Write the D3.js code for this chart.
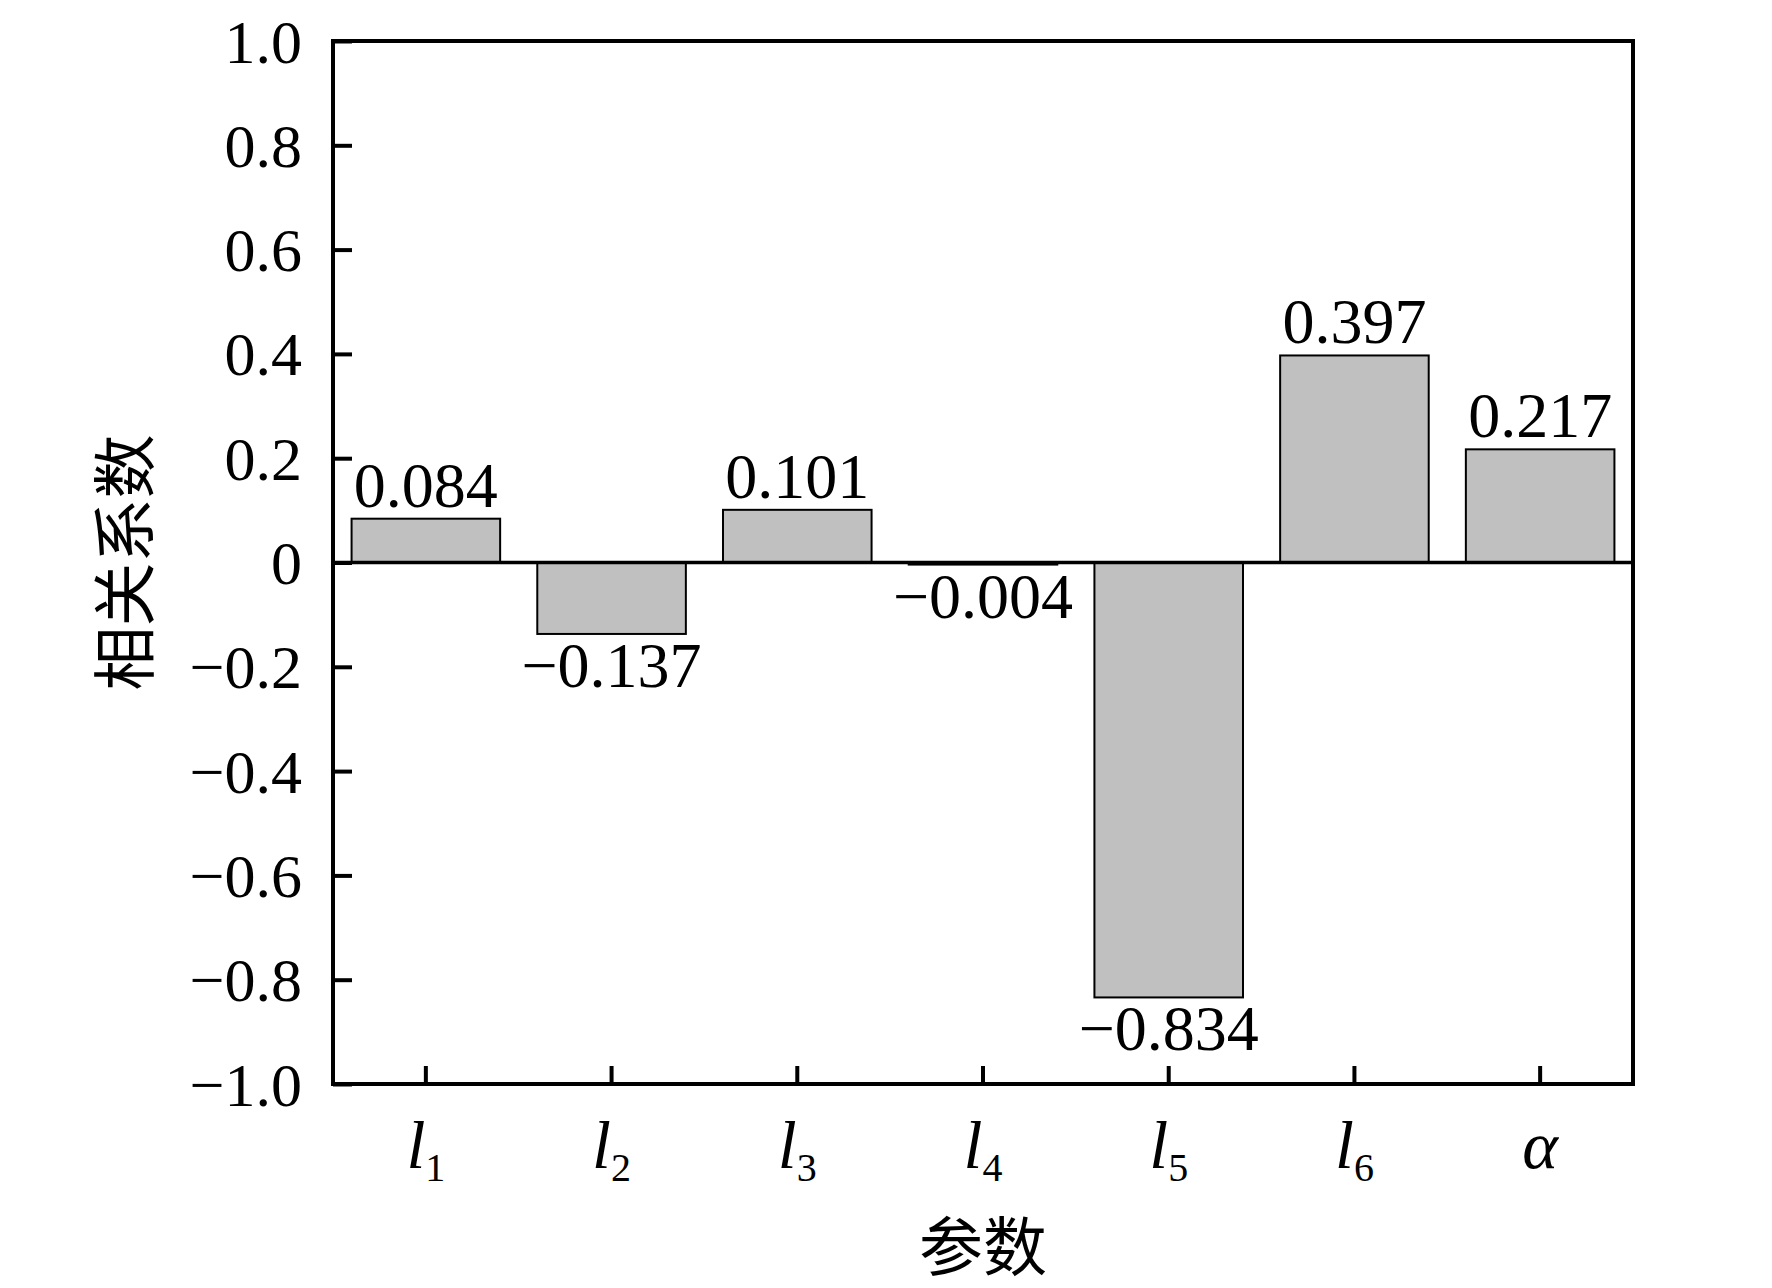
<!DOCTYPE html>
<html>
<head>
<meta charset="utf-8">
<script src="https://cdn.jsdelivr.net/npm/d3@7"></script>
<style>
  body { margin: 0; background: #fff; }
  svg { display: block; }
</style>
</head>
<body>
<svg id="corrChart"></svg>
<script>
// Correlation coefficients per parameter
const params = ['l1', 'l2', 'l3', 'l4', 'l5', 'l6', 'alpha'];
const paramSymbols = ['l', 'l', 'l', 'l', 'l', 'l', 'α'];
const paramSubs = ['1', '2', '3', '4', '5', '6', ''];
const coefficients = [0.084, -0.137, 0.101, -0.004, -0.834, 0.397, 0.217];
const yTicks = [1.0, 0.8, 0.6, 0.4, 0.2, 0, -0.2, -0.4, -0.6, -0.8, -1.0];

function renderCorrChart() {
  const W = 1772;
  const H = 1288;
  const margin = { top: 41, right: 139, bottom: 204, left: 333 };
  const width = W - margin.left - margin.right;
  const height = H - margin.top - margin.bottom;
  const serif = '"Liberation Serif", "Times New Roman", serif';
  const cjk = '"Noto Sans CJK SC", sans-serif';

  const svg = d3.select('#corrChart')
    .attr('width', W)
    .attr('height', H)
    .attr('viewBox', `0 0 ${W} ${H}`);

  svg.append('rect')
    .attr('width', W)
    .attr('height', H)
    .attr('fill', '#fff');

  const g = svg.append('g')
    .attr('transform', `translate(${margin.left},${margin.top})`);

  const xScale = d3.scaleBand()
    .domain(params)
    .range([0, width])
    .paddingInner(0.2)
    .paddingOuter(0.1);

  const yScale = d3.scaleLinear()
    .domain([-1, 1])
    .range([height, 0]);

  // bars
  g.selectAll('.bar')
    .data(params)
    .enter()
    .append('rect')
    .attr('class', 'bar')
    .attr('x', d => xScale(d))
    .attr('y', (d, i) => yScale(Math.max(0, coefficients[i])))
    .attr('width', xScale.bandwidth())
    .attr('height', (d, i) => Math.abs(yScale(coefficients[i]) - yScale(0)))
    .attr('fill', '#c0c0c0')
    .attr('stroke', '#000')
    .attr('stroke-width', 2);

  // zero line
  g.append('line')
    .attr('x1', 0)
    .attr('x2', width)
    .attr('y1', yScale(0))
    .attr('y2', yScale(0))
    .attr('stroke', '#000')
    .attr('stroke-width', 3.5);

  // value labels
  const fmt = d3.format('.3f');
  g.selectAll('.val')
    .data(params)
    .enter()
    .append('text')
    .attr('class', 'val')
    .attr('x', d => xScale(d) + xScale.bandwidth() / 2)
    .attr('y', (d, i) => coefficients[i] >= 0
      ? yScale(coefficients[i]) - 12
      : yScale(coefficients[i]) + 53)
    .attr('text-anchor', 'middle')
    .style('font-family', serif)
    .style('font-size', '64px')
    .style('fill', '#000')
    .text((d, i) => fmt(coefficients[i]));

  // y axis
  const yAxis = g.append('g')
    .call(d3.axisLeft(yScale)
      .tickValues(yTicks)
      .tickSizeInner(-19)
      .tickSizeOuter(0)
      .tickPadding(31)
      .tickFormat(d => d === 0 ? '0' : d3.format('.1f')(d)));
  yAxis.select('.domain').remove();
  yAxis.selectAll('.tick line')
    .attr('stroke', '#000')
    .attr('stroke-width', 4);
  yAxis.selectAll('.tick text')
    .attr('dy', null)
    .attr('y', 21)
    .style('font-family', serif)
    .style('font-size', '62px')
    .style('fill', '#000');

  // x axis
  const xAxis = g.append('g')
    .attr('transform', `translate(0,${height})`)
    .call(d3.axisBottom(xScale)
      .tickSizeInner(-18)
      .tickSizeOuter(0)
      .tickFormat(''));
  xAxis.select('.domain').remove();
  xAxis.selectAll('.tick line')
    .attr('stroke', '#000')
    .attr('stroke-width', 4);

  const xLabels = g.selectAll('.xlab')
    .data(params)
    .enter()
    .append('text')
    .attr('class', 'xlab')
    .attr('x', d => xScale(d) + xScale.bandwidth() / 2)
    .attr('y', height + 84)
    .attr('text-anchor', 'middle')
    .style('font-family', serif)
    .style('fill', '#000');
  xLabels.append('tspan')
    .style('font-style', 'italic')
    .style('font-size', '68px')
    .text((d, i) => paramSymbols[i]);
  xLabels.append('tspan')
    .attr('dy', 13)
    .style('font-size', '40px')
    .text((d, i) => paramSubs[i]);

  // frame
  g.append('rect')
    .attr('x', 0)
    .attr('y', 0)
    .attr('width', width)
    .attr('height', height)
    .attr('fill', 'none')
    .attr('stroke', '#000')
    .attr('stroke-width', 4);

  // axis titles
  svg.append('text')
    .attr('transform', `translate(148,${margin.top + height / 2}) rotate(-90)`)
    .attr('text-anchor', 'middle')
    .style('font-family', cjk)
    .style('font-size', '64px')
    .style('fill', '#000')
    .text('相关系数');

  svg.append('text')
    .attr('x', margin.left + width / 2)
    .attr('y', 1270)
    .attr('text-anchor', 'middle')
    .style('font-family', cjk)
    .style('font-size', '64px')
    .style('fill', '#000')
    .text('参数');
}

document.addEventListener('DOMContentLoaded', renderCorrChart);
</script>
</body>
</html>
